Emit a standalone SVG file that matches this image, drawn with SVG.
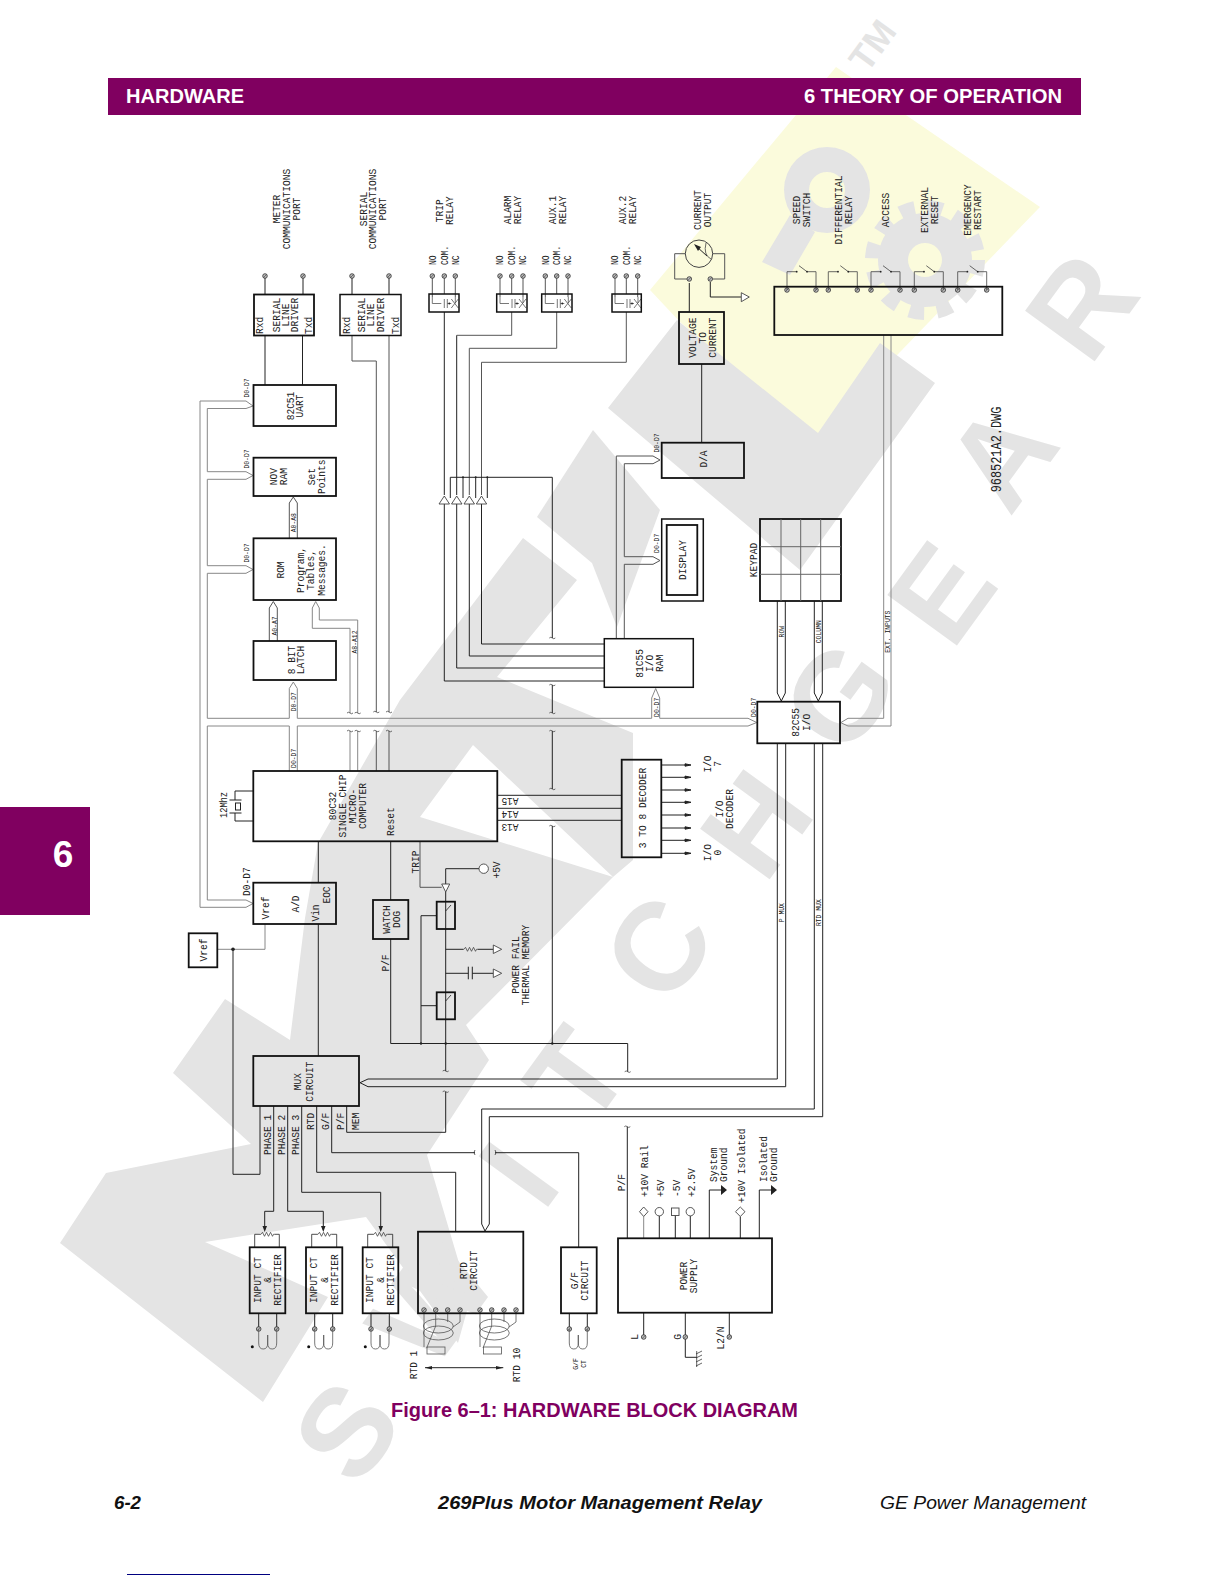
<svg xmlns="http://www.w3.org/2000/svg" width="1224" height="1584" viewBox="0 0 1224 1584">
<style>
.wm{fill:#e4e4e4}
.wt{fill:#e4e4e4;font:bold 125px "Liberation Sans",sans-serif;text-anchor:middle}
.box{fill:none;stroke:#111;stroke-width:1.8}
.box2{fill:none;stroke:#111;stroke-width:1.5}
.c{fill:none;stroke:#222;stroke-width:1}
.g{stroke:#888}
.m{stroke:#555}
.f{fill:#222;stroke:none}
.o{fill:#fff;stroke:#444;stroke-width:.9}
.t{font:11px "Liberation Mono",monospace;fill:#222;text-anchor:middle}
.ts{font:11px "Liberation Mono",monospace;fill:#222;text-anchor:start}
.n{font:10px "Liberation Mono",monospace;fill:#222;text-anchor:start}
.s{font:8px "Liberation Mono",monospace;fill:#111;text-anchor:middle}
.hd{font:bold 20px "Liberation Sans",sans-serif;fill:#fff}
</style>
<defs>
<g id="x"><circle r="2.3" fill="#bbb" stroke="#333" stroke-width=".8"/><path d="M-1.6,1.6L1.6,-1.6" stroke="#333" stroke-width=".6"/></g>
<g id="sw"><path d="M0,0V-18.300H9.700M20,-18.300H29V0M20,-18.300L12,-24.300" fill="none" stroke="#444" stroke-width=".8"/><circle cx="9.700" cy="-18.300" r=".9" fill="#222"/><circle cx="20" cy="-18.300" r=".9" fill="#222"/></g>
<g id="zz"><path d="M0,0h1l1.500,-2l2,4l2,-4l2,4l2,-4l2,4l1,-2h1" fill="none" stroke="#444" stroke-width=".8"/></g>
<g id="coil"><path d="M0,0V14Q0,20 4.500,20Q9,20 9,14V6M9,6V14Q9,20 13.500,20Q18,20 18,14V0" fill="none" stroke="#555" stroke-width=".8"/></g>
<g id="rl"><path d="M0,3V9.500H9M12,5V14M15,5V14M15,9.500H19M19,5L26,14M19,14L26,5M23,3V9" fill="none" stroke="#555" stroke-width=".8"/><circle cx="17" cy="9.500" r=".9" fill="#222"/></g>
<path id="tick" d="M-3,0q1.500,-1.500 3,0q1.500,1.500 3,0" fill="none" stroke="#333" stroke-width=".7"/>
<path id="ar" d="M0,-1.200L6,0L0,1.200Z" fill="#222"/>
</defs>
<rect width="1224" height="1584" fill="#fff"/>
<g id="watermark">
<polygon points="836,67 1040,207 818,437 680,322 650,290" fill="#fbfbdc"/>
<g class="wm">
<polygon points="608,408 677,320 818,433 880,343 935,383 800,570"/>
<polygon points="593,430 537,517 592,563 617,627 660,510"/>
<polygon points="523,538 577,580 497,677 633,733 633,860 613,877 473,745 420,817 613,877 466,1025 489,1060 427,1155 470,1300 458,1343 366,1217 205,1242 328,1297 263,1402 60,1243 106,1173 251,1144 173,1073 225,999 290,1040 305,918 318,843 400,700"/>
<path fill-rule="evenodd" d="M870,190a43,43 0 1,1 -86,0a43,43 0 1,1 86,0ZM845,190a18,18 0 1,0 -36,0a18,18 0 1,0 36,0Z"/>
<path d="M790,215L815,232L790,275L762,262Z"/>
<path fill-rule="evenodd" d="M972,260a47,47 0 1,1 -94,0a47,47 0 1,1 94,0ZM942,260a17,17 0 1,0 -34,0a17,17 0 1,0 34,0Z"/>
<circle cx="925" cy="260" r="53" fill="none" stroke="#e4e4e4" stroke-width="14" stroke-dasharray="15 13"/>
</g>
<g class="wt">
<text transform="translate(345,1430) rotate(-54) translate(0,45)">S</text>
<text transform="translate(430,1300) rotate(-54) translate(0,45)">W</text>
<text transform="translate(517,1173) rotate(-54) translate(0,45)">I</text>
<text transform="translate(575,1075) rotate(-54) translate(0,45)">T</text>
<text transform="translate(657,947) rotate(-54) translate(0,45)">C</text>
<text transform="translate(755,823) rotate(-54) translate(0,45)">H</text>
<text transform="translate(838,695) rotate(-54) translate(0,45)">G</text>
<text transform="translate(940,592) rotate(-54) translate(0,45)">E</text>
<text transform="translate(1000,455) rotate(-54) translate(0,45)">A</text>
<text transform="translate(1080,305) rotate(-54) translate(0,45)">R</text>
<text transform="translate(872,45) rotate(-54) translate(0,13)" style="font-size:36px">TM</text>
</g>
</g>
<g id="page">
<rect x="108" y="78" width="973" height="37" fill="#800060"/>
<text class="hd" x="126" y="103" textLength="118" lengthAdjust="spacingAndGlyphs">HARDWARE</text>
<text class="hd" x="804" y="103" textLength="258" lengthAdjust="spacingAndGlyphs">6 THEORY OF OPERATION</text>
<rect x="0" y="807" width="90" height="108" fill="#800060"/>
<text x="63" y="867" style="font:bold 37px 'Liberation Sans',sans-serif;fill:#fff;text-anchor:middle">6</text>
<text x="391" y="1417" textLength="407" lengthAdjust="spacingAndGlyphs" style="font:bold 20px 'Liberation Sans',sans-serif;fill:#800060">Figure 6–1: HARDWARE BLOCK DIAGRAM</text>
<text x="114" y="1509" textLength="27" lengthAdjust="spacingAndGlyphs" style="font:italic bold 19px 'Liberation Sans',sans-serif;fill:#111">6-2</text>
<text x="438" y="1509" textLength="324" lengthAdjust="spacingAndGlyphs" style="font:italic bold 19px 'Liberation Sans',sans-serif;fill:#111">269Plus Motor Management Relay</text>
<text x="880" y="1509" textLength="206" lengthAdjust="spacingAndGlyphs" style="font:italic 19px 'Liberation Sans',sans-serif;fill:#111">GE Power Management</text>
<rect x="127" y="1574" width="143" height="1" fill="#000080"/>
</g>
<g id="connectors" class="c">
<path d="M265,278V294M303,278V294M265,335V385M302.500,335V385M352,278V294M389,278V294"/>
<path class="m" d="M352,335V361H376.300V712M376.300,731V771M389,335V712M389,731V771"/>
<path class="m" d="M432.300,278V297M455.300,278V297M444.300,278V294M500,278V297M523,278V297M511.700,278V294M545.300,278V297M568,278V297M556.700,278V294M615,278V297M637.700,278V297M626.300,278V294"/>
<path d="M444.300,312V495M456.700,335.300V495"/>
<path class="m" d="M511.700,312V335.300H456.700M556.700,312V348.300H469.300V495M626.300,312V362.300H481.500V495"/>
<path d="M444.300,504V681H604.300M456.700,504V668H604.300M469.300,504V656H604.300M481.500,504V644H604.300"/>
<path d="M450.300,498V477.300H552.300V638M463,498V477.300M475.700,498V477.300M487.300,498V477.300"/>
<path d="M552.300,685V713M552.300,731V789M552.300,826V1043.500"/>
<path class="g" d="M200,401H246L253,406L246,408.500H207.300V471.700H246L253,475.500L246,479.300H207.300V565.700H246L253,569.500L246,573.300H207.300V718.300H289.300V688.500L293.300,682L297.300,688.500V718.300H651.700V698L655.700,688.500L659.700,698V718.300H748L756.700,722.500L748,726H297.300V771M289.300,771V726H207.300V900H246L253,903.500L246,907.300H200V401"/>
<path class="m" d="M289.300,538V503L293.300,497L297.300,503V538M269.300,641V608L273.300,601.500L277.300,608V641"/>
<path class="g" d="M350,713V628.300H312.300V608L315.700,601.500L319.300,608V620H357.700V713M350,731V771M357.700,731V771"/>
<path class="m" d="M616.300,638.700V456H653L660,460L653,463.700H624.300V556.700H653L660,560.500L653,564.300H624.300V638.700"/>
<path d="M777.300,601V693L781.300,701L785.300,693V601M814.300,601V693L818.300,701L822.300,693V601"/>
<path class="g" d="M883.700,335V718.300H848L840.700,722.700L848,726H891V335"/>
<path d="M777.300,743.300V1079H368L360,1082.700L368,1086.700H785.700V743.300"/>
<path d="M814.300,743.300V1109H481.700V1224L485,1231L489.300,1224V1116.700H822.700V743.300"/>
<path d="M701.700,364V442.700M689.300,283V312"/>
<path class="m" d="M685.300,253.700H674.700V279H687M712.700,253.700H724.700V279H713"/>
<path d="M710.300,282V297H741"/>
<path d="M253,791H235V800M253,821H235V813"/>
<path d="M229.500,800H241.500M229.500,813H241.500"/>
<rect x="235.500" y="803" width="5" height="7"/>
<path d="M318.300,841.300V882.700M318.300,924V1056M390.700,841.300V900M390.700,939V1043.500H627.700V1071.700"/>
<path class="m" d="M420,841.300V887.300H441.700"/>
<path d="M445.700,884V868.700H479"/>
<path d="M445.700,892V1071M445.700,1091.700V1132.300H346.700V1106"/>
<path d="M421,915.700V1043.500M421,915.700H436.700M421,1005.700H436.700"/>
<path d="M445.700,911L451,905M445.700,1001L451,995" stroke-width=".8"/>
<path d="M445.700,949.300H463M477.500,949.300H493.300M445.700,973.300H468.300M472.300,973.300H493.300M468.300,966.700V979.300M472.300,966.700V979.300"/>
<use href="#zz" x="463" y="949.300"/>
<path class="g" d="M217.300,949.300H265V924"/>
<path d="M233,949.300V1174.300H260V1106"/>
<path d="M497.300,795.300H621.700M497.300,808.300H621.700M497.300,820.300H621.700"/>
<path d="M661.300,765H686M661.300,777.300H686M661.300,790H686M661.300,802.300H686M661.300,815H686M661.300,828H686M661.300,840.300H686M661.300,853.300H686"/>
<use href="#ar" x="685" y="765"/><use href="#ar" x="685" y="777.300"/><use href="#ar" x="685" y="790"/><use href="#ar" x="685" y="802.300"/><use href="#ar" x="685" y="815"/><use href="#ar" x="685" y="828"/><use href="#ar" x="685" y="840.300"/><use href="#ar" x="685" y="853.300"/>
<path d="M273.700,1106V1211.300H264.700V1230M287.700,1106V1211.300H323.300V1230M301.700,1106V1192.300H380.700V1230M316.700,1106V1172.300H455.700V1231.700M331.700,1106V1152.700H475M495,1152.700H578.700V1247.300"/>
<path class="f" d="M262.500,1226H267L264.700,1232ZM321,1226H325.500L323.300,1232ZM378.500,1226H383L380.700,1232Z"/>
<path d="M627.300,1238V1126.700M709.300,1238V1190H722M759.300,1238V1190H772M659.300,1238V1216M675.300,1238V1215.500M690.300,1238V1216M740.300,1238V1216.500"/>
<path class="g" d="M643.700,1238V1216.500"/>
<path class="f" d="M721,1185L727,1190L721,1195ZM771,1185L777,1190L771,1195Z"/>
<path d="M643.700,1313V1337M685.300,1313V1357.300H696.700M729.300,1313V1337"/>
<path d="M696.700,1351V1367M696,1354L702,1351M696,1358L702,1355M696,1362L702,1359M696,1366L702,1363" stroke-width=".7"/>
<path d="M258.700,1313V1327M276.700,1313V1327M314.700,1313V1327M332.700,1313V1327M371,1313V1327M389.300,1313V1327M569.300,1313V1327M587.300,1313V1327"/>
<path d="M254.700,1247.300V1234.300H260M274.500,1234.300H279.300V1247.300M311.700,1247.300V1234.300H317M331.500,1234.300H336.700V1247.300M367.700,1247.300V1234.300H373M387.500,1234.300H392.700V1247.300" stroke-width=".8"/>
<path d="M425,1367.700H503.300"/>
<path class="f" d="M425,1367.700L432,1366V1369.500ZM503.300,1367.700L496,1366V1369.500Z"/>
<g class="m" stroke-width=".8">
<ellipse cx="438.300" cy="1326" rx="15" ry="7"/><ellipse cx="438.300" cy="1333" rx="15" ry="7"/>
<path d="M424,1312V1347M435.700,1312V1326L426.700,1348M447.700,1312V1322M460,1312V1322L453,1327"/>
<rect x="427" y="1347" width="18" height="7"/>
<ellipse cx="494.300" cy="1326" rx="15" ry="7"/><ellipse cx="494.300" cy="1333" rx="15" ry="7"/>
<path d="M480,1312V1347M491.700,1312V1326L483,1348M504,1312V1322M516,1312V1322L509,1327"/>
<rect x="483.500" y="1347" width="18" height="7"/>
</g>
<use href="#tick" x="350" y="713"/><use href="#tick" x="357.700" y="713"/><use href="#tick" x="376.300" y="712"/><use href="#tick" x="389" y="712"/>
<use href="#tick" x="350" y="731"/><use href="#tick" x="357.700" y="731"/><use href="#tick" x="376.300" y="731"/><use href="#tick" x="389" y="731"/>
<use href="#tick" x="552.300" y="638"/><use href="#tick" x="552.300" y="685"/><use href="#tick" x="552.300" y="713"/><use href="#tick" x="552.300" y="731"/><use href="#tick" x="552.300" y="789"/><use href="#tick" x="552.300" y="826"/>
<use href="#tick" x="445.700" y="1071"/><use href="#tick" x="445.700" y="1091.700"/><use href="#tick" x="627.700" y="1071.700"/><use href="#tick" x="627.300" y="1126.700"/>
<path d="M475,1150q-2,2.500 0,5M495,1150q2,2.500 0,5" stroke-width=".7"/>
<circle class="f" cx="463" cy="477.300" r="1"/><circle class="f" cx="475.700" cy="477.300" r="1"/><circle class="f" cx="487.300" cy="477.300" r="1"/>
<circle class="f" cx="233" cy="949.300" r="1.800"/><circle class="f" cx="552.300" cy="1043.500" r="1.200"/><circle class="f" cx="421" cy="1043.500" r="1.200"/><circle class="f" cx="445.700" cy="1043.500" r="1.200"/>
</g>
<g id="symbols">
<path class="o" d="M444.300,496L449.500,504H439ZM456.700,496L462,504H451.500ZM469.300,496L474.500,504H464ZM481.500,496L486.700,504H476.300Z"/>
<path class="o" d="M441.700,884H449.700L445.700,892Z"/>
<path class="o" d="M493.300,945L501.700,949.300L493.300,953.500ZM493.300,969L501.700,973.300L493.300,977.500ZM741.300,292.700L749.300,297L741.300,301.700Z"/>
<circle class="o" cx="483.700" cy="868.700" r="4.700"/>
<path class="o" d="M643.700,1207L648,1211.700L643.700,1216.500L639.500,1211.700ZM740.300,1207L745,1211.700L740.300,1216.500L735.500,1211.700Z"/>
<circle class="o" cx="659.300" cy="1211.700" r="4.200"/><circle class="o" cx="690.300" cy="1211.700" r="4.200"/>
<rect class="o" x="671.500" y="1208" width="7.500" height="7.500"/>
</g>
<g id="n-term">
<use href="#x" x="265" y="276"/><use href="#x" x="303" y="276"/><use href="#x" x="352" y="276"/><use href="#x" x="389" y="276"/>
<use href="#x" x="432.300" y="276"/><use href="#x" x="444.300" y="276"/><use href="#x" x="455.300" y="276"/>
<use href="#x" x="500" y="276"/><use href="#x" x="511.700" y="276"/><use href="#x" x="523" y="276"/>
<use href="#x" x="545.300" y="276"/><use href="#x" x="556.700" y="276"/><use href="#x" x="568" y="276"/>
<use href="#x" x="615" y="276"/><use href="#x" x="626.300" y="276"/><use href="#x" x="637.700" y="276"/>
<use href="#x" x="689.300" y="279"/><use href="#x" x="710.300" y="279"/>
<use href="#x" x="787" y="290"/><use href="#x" x="816" y="290"/><use href="#x" x="828.300" y="290"/><use href="#x" x="857.300" y="290"/><use href="#x" x="871" y="290"/><use href="#x" x="900" y="290"/><use href="#x" x="914.300" y="290"/><use href="#x" x="943.300" y="290"/><use href="#x" x="957.700" y="290"/><use href="#x" x="986.700" y="290"/>
<use href="#sw" x="787" y="290"/><use href="#sw" x="828.300" y="290"/><use href="#sw" x="871" y="290"/><use href="#sw" x="914.300" y="290"/><use href="#sw" x="957.700" y="290"/>
<use href="#x" x="258.700" y="1329"/><use href="#x" x="276.700" y="1329"/><use href="#x" x="314.700" y="1329"/><use href="#x" x="332.700" y="1329"/><use href="#x" x="371" y="1329"/><use href="#x" x="389.300" y="1329"/><use href="#x" x="569.300" y="1329"/><use href="#x" x="587.300" y="1329"/>
<use href="#coil" x="258.700" y="1329"/><use href="#coil" x="314.700" y="1329"/><use href="#coil" x="371" y="1329"/><use href="#coil" x="569.300" y="1329"/>
<circle cx="252.300" cy="1346.700" r="1.500" fill="#111"/><circle cx="308.700" cy="1346.700" r="1.500" fill="#111"/><circle cx="365.300" cy="1346.700" r="1.500" fill="#111"/>
<use href="#x" x="424" y="1310"/><use href="#x" x="435.700" y="1310"/><use href="#x" x="447.700" y="1310"/><use href="#x" x="460" y="1310"/><use href="#x" x="480" y="1310"/><use href="#x" x="491.700" y="1310"/><use href="#x" x="504" y="1310"/><use href="#x" x="516" y="1310"/>
<use href="#x" x="643.700" y="1337"/><use href="#x" x="685.300" y="1337"/><use href="#x" x="729.300" y="1337"/>
<use href="#zz" x="260" y="1234.300"/><use href="#zz" x="317" y="1234.300"/><use href="#zz" x="373" y="1234.300"/>
<use href="#rl" x="432.300" y="294"/><use href="#rl" x="500" y="294"/><use href="#rl" x="545.300" y="294"/><use href="#rl" x="615" y="294"/>
</g>
<g id="meter"><circle cx="699" cy="253.700" r="13.700" fill="none" stroke="#444"/><path d="M707,256L696,246" stroke="#222"/><path d="M694,244L701,247L698,251Z" fill="#222"/><path d="M706,243Q703,255 711,259" fill="none" stroke="#444" stroke-width=".8"/></g>
<g id="n-meterdrv"><rect class="box" x="254" y="294.500" width="60" height="41"/>
<text class="ts" transform="matrix(0 -.87 1 0 263 334)">Rxd</text><text class="t" transform="matrix(0 -.87 1 0 279.500 315)">SERIAL</text><text class="t" transform="matrix(0 -.87 1 0 288.700 315)">LINE</text><text class="t" transform="matrix(0 -.87 1 0 298 315)">DRIVER</text><text class="ts" transform="matrix(0 -.87 1 0 312 334)">Txd</text></g>
<g id="n-serdrv"><rect class="box2" x="340" y="294.500" width="61" height="41"/>
<text class="ts" transform="matrix(0 -.87 1 0 350 334)">Rxd</text><text class="t" transform="matrix(0 -.87 1 0 364.500 315)">SERIAL</text><text class="t" transform="matrix(0 -.87 1 0 373.500 315)">LINE</text><text class="t" transform="matrix(0 -.87 1 0 383.500 315)">DRIVER</text><text class="ts" transform="matrix(0 -.87 1 0 398.500 334)">Txd</text></g>
<g id="n-trip"><rect class="box2" x="429" y="294" width="30" height="18"/></g>
<g id="n-alarm"><rect class="box2" x="496.700" y="294" width="30.300" height="18"/></g>
<g id="n-aux1"><rect class="box2" x="541.700" y="294" width="30.300" height="18"/></g>
<g id="n-aux2"><rect class="box2" x="612" y="294" width="29.300" height="18"/></g>
<g id="n-uart"><rect class="box" x="253.500" y="385" width="82.500" height="41"/><text class="t" transform="matrix(0 -.87 1 0 294 406)">82C51</text><text class="t" transform="matrix(0 -.87 1 0 303 406)">UART</text></g>
<g id="n-nov"><rect class="box" x="253.500" y="457.700" width="82.500" height="38.300"/><text class="t" transform="matrix(0 -.87 1 0 277 476.700)">NOV</text><text class="t" transform="matrix(0 -.87 1 0 286.500 476.700)">RAM</text><text class="t" transform="matrix(0 -.87 1 0 315 476.700)">Set</text><text class="t" transform="matrix(0 -.87 1 0 325 476.700)">Points</text></g>
<g id="n-rom"><rect class="box" x="253.500" y="538.300" width="82.500" height="61.700"/><text class="t" transform="matrix(0 -.87 1 0 284 570)">ROM</text><text class="t" transform="matrix(0 -.87 1 0 304 570)">Program,</text><text class="t" transform="matrix(0 -.87 1 0 314 570)">Tables,</text><text class="t" transform="matrix(0 -.87 1 0 325 570)">Messages.</text></g>
<g id="n-latch"><rect class="box" x="253.500" y="641" width="82.500" height="39"/><text class="t" transform="matrix(0 -.87 1 0 294.500 660)">8 BIT</text><text class="t" transform="matrix(0 -.87 1 0 304 660)">LATCH</text></g>
<g id="n-micro"><rect class="box" x="253.300" y="771" width="244" height="70.300"/><text class="t" transform="matrix(0 -.87 1 0 335.700 806)">80C32</text><text class="t" transform="matrix(0 -.87 1 0 345.700 806)">SINGLE CHIP</text><text class="t" transform="matrix(0 -.87 1 0 355.700 806)">MICRO-</text><text class="t" transform="matrix(0 -.87 1 0 365.700 806)">COMPUTER</text><text class="t" transform="matrix(0 -.87 1 0 394 821.700)">Reset</text></g>
<g id="n-ad"><rect class="box" x="253.300" y="882.700" width="82.700" height="41.300"/><text class="t" transform="matrix(0 -.87 1 0 269 908)">Vref</text><text class="t" transform="matrix(0 -.87 1 0 299 904)">A/D</text><text class="t" transform="matrix(0 -.87 1 0 319 913)">Vin</text><text class="t" transform="matrix(0 -.87 1 0 330 895)">EOC</text></g>
<g id="n-vref"><rect class="box" x="188.700" y="933.300" width="28.600" height="34"/><text class="t" transform="matrix(0 -.87 1 0 207 950)">Vref</text></g>
<g id="n-wd"><rect class="box" x="373" y="900" width="35.300" height="39"/><text class="t" transform="matrix(0 -.87 1 0 390 919.500)">WATCH</text><text class="t" transform="matrix(0 -.87 1 0 400 919.500)">DOG</text></g>
<g id="n-sw1"><rect class="box" x="436.700" y="901.700" width="18.300" height="27.300"/></g>
<g id="n-sw2"><rect class="box" x="436.700" y="992.300" width="18.300" height="27"/></g>
<g id="n-mux"><rect class="box" x="253.300" y="1056" width="105.700" height="50"/><text class="t" transform="matrix(0 -.87 1 0 301.300 1081.700)">MUX</text><text class="t" transform="matrix(0 -.87 1 0 313.300 1081.700)">CIRCUIT</text></g>
<g id="n-ct1"><rect class="box" x="249.700" y="1247.300" width="35.600" height="66"/><text class="t" transform="matrix(0 -.87 1 0 261 1280)">INPUT CT</text><text class="t" transform="matrix(0 -.87 1 0 271.300 1280)">&amp;</text><text class="t" transform="matrix(0 -.87 1 0 281 1280)">RECTIFIER</text></g>
<g id="n-ct2"><rect class="box" x="306" y="1247.300" width="36.300" height="66"/><text class="t" transform="matrix(0 -.87 1 0 317.300 1280)">INPUT CT</text><text class="t" transform="matrix(0 -.87 1 0 327.700 1280)">&amp;</text><text class="t" transform="matrix(0 -.87 1 0 337.700 1280)">RECTIFIER</text></g>
<g id="n-ct3"><rect class="box" x="362.700" y="1247.300" width="35.600" height="66"/><text class="t" transform="matrix(0 -.87 1 0 373.300 1280)">INPUT CT</text><text class="t" transform="matrix(0 -.87 1 0 384 1280)">&amp;</text><text class="t" transform="matrix(0 -.87 1 0 394 1280)">RECTIFIER</text></g>
<g id="n-rtd"><rect class="box" x="418" y="1231.700" width="105.300" height="81.600"/><text class="t" transform="matrix(0 -.87 1 0 467.300 1270.700)">RTD</text><text class="t" transform="matrix(0 -.87 1 0 477.300 1270.700)">CIRCUIT</text></g>
<g id="n-gf"><rect class="box" x="561" y="1247.300" width="35.700" height="66"/><text class="t" transform="matrix(0 -.87 1 0 578.300 1280.700)">G/F</text><text class="t" transform="matrix(0 -.87 1 0 588 1280.700)">CIRCUIT</text></g>
<g id="n-ps"><rect class="box" x="618" y="1238.300" width="154" height="74.400"/><text class="t" transform="matrix(0 -.87 1 0 687.300 1276)">POWER</text><text class="t" transform="matrix(0 -.87 1 0 697.300 1276)">SUPPLY</text></g>
<g id="n-dec"><rect class="box" x="621.700" y="759.700" width="39.600" height="97.600"/><text class="t" transform="matrix(0 -.87 1 0 646.300 808)">3 TO 8 DECODER</text></g>
<g id="n-81"><rect class="box2" x="604.300" y="638.700" width="89" height="48.600"/><text class="t" transform="matrix(0 -.87 1 0 643 663.300)">81C55</text><text class="t" transform="matrix(0 -.87 1 0 653.300 663.300)">I/O</text><text class="t" transform="matrix(0 -.87 1 0 663.300 663.300)">RAM</text></g>
<g id="n-82"><rect class="box" x="757.300" y="701.700" width="82.700" height="41.600"/><text class="t" transform="matrix(0 -.87 1 0 799 722.300)">82C55</text><text class="t" transform="matrix(0 -.87 1 0 809.700 722.300)">I/O</text></g>
<g id="n-da"><rect class="box" x="661.700" y="442.700" width="82.300" height="35.300"/><text class="t" transform="matrix(0 -.87 1 0 706.700 459)">D/A</text></g>
<g id="n-disp"><rect class="box2" x="661.700" y="519" width="41.600" height="82"/><rect class="box" x="666.700" y="525" width="30.600" height="70"/><text class="t" transform="matrix(0 -.87 1 0 686 560)">DISPLAY</text></g>
<g id="n-key"><rect class="box" x="760" y="519" width="81" height="82"/><path d="M781,519V601M800.700,519V601M820.700,519V601M760,546.700H841M760,574.300H841" stroke="#666" fill="none"/><text class="t" transform="matrix(0 -.87 1 0 757 560)">KEYPAD</text></g>
<g id="n-v2c"><rect class="box" x="679" y="312" width="45" height="52"/><text class="t" transform="matrix(0 -.87 1 0 695.700 337.700)">VOLTAGE</text><text class="t" transform="matrix(0 -.87 1 0 705.700 337.700)">TO</text><text class="t" transform="matrix(0 -.87 1 0 715.700 337.700)">CURRENT</text></g>
<g id="n-swbox"><rect class="box" x="774.300" y="286.700" width="228" height="48.300"/></g>
<g id="labels">
<text class="t" transform="matrix(0 -.87 1 0 280 209)">METER</text><text class="t" transform="matrix(0 -.87 1 0 289.500 209)">COMMUNICATIONS</text><text class="t" transform="matrix(0 -.87 1 0 299.500 209)">PORT</text>
<text class="t" transform="matrix(0 -.87 1 0 366.700 209)">SERIAL</text><text class="t" transform="matrix(0 -.87 1 0 375.700 209)">COMMUNICATIONS</text><text class="t" transform="matrix(0 -.87 1 0 385.700 209)">PORT</text>
<text class="t" transform="matrix(0 -.87 1 0 443 210.700)">TRIP</text><text class="t" transform="matrix(0 -.87 1 0 453.300 210.700)">RELAY</text>
<text class="t" transform="matrix(0 -.87 1 0 511.300 210)">ALARM</text><text class="t" transform="matrix(0 -.87 1 0 521.300 210)">RELAY</text>
<text class="t" transform="matrix(0 -.87 1 0 556 210)">AUX.1</text><text class="t" transform="matrix(0 -.87 1 0 566 210)">RELAY</text>
<text class="t" transform="matrix(0 -.87 1 0 625.700 210)">AUX.2</text><text class="t" transform="matrix(0 -.87 1 0 635.700 210)">RELAY</text>
<text class="t" transform="matrix(0 -.87 1 0 700.700 210)">CURRENT</text><text class="t" transform="matrix(0 -.87 1 0 710.700 210)">OUTPUT</text>
<text class="t" transform="matrix(0 -.87 1 0 799.700 210)">SPEED</text><text class="t" transform="matrix(0 -.87 1 0 809.700 210)">SWITCH</text>
<text class="t" transform="matrix(0 -.87 1 0 842.300 210)">DIFFERENTIAL</text><text class="t" transform="matrix(0 -.87 1 0 852.300 210)">RELAY</text>
<text class="t" transform="matrix(0 -.87 1 0 889 210)">ACCESS</text>
<text class="t" transform="matrix(0 -.87 1 0 928 210)">EXTERNAL</text><text class="t" transform="matrix(0 -.87 1 0 938 210)">RESET</text>
<text class="t" transform="matrix(0 -.87 1 0 971 210)">EMERGENCY</text><text class="t" transform="matrix(0 -.87 1 0 981 210)">RESTART</text>
<text class="t" style="font-size:14px" transform="matrix(0 -.85 1 0 1001 449.500)">968521A2.DWG</text>
<text class="n" transform="matrix(0 -.8 1 0 435.500 265)">NO</text><text class="n" transform="matrix(0 -.8 1 0 447.500 265)">COM.</text><text class="n" transform="matrix(0 -.8 1 0 458.500 265)">NC</text>
<text class="n" transform="matrix(0 -.8 1 0 503 265)">NO</text><text class="n" transform="matrix(0 -.8 1 0 515 265)">COM.</text><text class="n" transform="matrix(0 -.8 1 0 526 265)">NC</text>
<text class="n" transform="matrix(0 -.8 1 0 548.500 265)">NO</text><text class="n" transform="matrix(0 -.8 1 0 560 265)">COM.</text><text class="n" transform="matrix(0 -.8 1 0 571 265)">NC</text>
<text class="n" transform="matrix(0 -.8 1 0 618 265)">NO</text><text class="n" transform="matrix(0 -.8 1 0 629.500 265)">COM.</text><text class="n" transform="matrix(0 -.8 1 0 641 265)">NC</text>
<text class="s" transform="matrix(0 -.8 1 0 249 388)">D0-D7</text><text class="s" transform="matrix(0 -.8 1 0 249 459)">D0-D7</text><text class="s" transform="matrix(0 -.8 1 0 249 553)">D0-D7</text>
<text class="s" transform="matrix(0 -.8 1 0 296 522.700)">A0-A8</text><text class="s" transform="matrix(0 -.8 1 0 276.500 626)">A0-A7</text><text class="s" transform="matrix(0 -.8 1 0 357 642)">A8-A12</text>
<text class="s" transform="matrix(0 -.8 1 0 296 701.700)">D0-D7</text><text class="s" transform="matrix(0 -.8 1 0 296 758.300)">D0-D7</text>
<text class="s" transform="matrix(0 -.8 1 0 658.700 707.300)">D0-D7</text><text class="s" transform="matrix(0 -.8 1 0 756.300 707.300)">D0-D7</text>
<text class="s" transform="matrix(0 -.8 1 0 658.700 443)">D0-D7</text><text class="s" transform="matrix(0 -.8 1 0 658.700 543.300)">D0-D7</text>
<text class="s" transform="matrix(0 -.8 1 0 784.300 631.700)">ROW</text><text class="s" transform="matrix(0 -.8 1 0 821.300 631.700)">COLUMN</text><text class="s" transform="matrix(0 -.8 1 0 890.300 631.700)">EXT. INPUTS</text>
<text class="s" transform="matrix(0 -.8 1 0 784.300 912.700)">P MUX</text><text class="s" transform="matrix(0 -.8 1 0 821.300 912.700)">RTD MUX</text>
<text class="t" transform="matrix(0 -.87 1 0 249.500 881.700)">D0-D7</text>
<text class="t" style="font-size:10px" transform="matrix(0 -.87 1 0 227 805)">12Mhz</text>
<text class="t" transform="matrix(0 -.87 1 0 389 963)">P/F</text>
<text class="t" transform="matrix(0 -.87 1 0 418.500 862)">TRIP</text>
<text class="t" transform="matrix(0 -.87 1 0 500 870)">+5V</text>
<text class="t" transform="matrix(0 -.87 1 0 519 965)">POWER FAIL</text><text class="t" transform="matrix(0 -.87 1 0 529 965)">THERMAL MEMORY</text>
<text class="t" transform="translate(510,798) rotate(180) scale(.87,1)">A15</text><text class="t" transform="translate(510,811) rotate(180) scale(.87,1)">A14</text><text class="t" transform="translate(510,823.500) rotate(180) scale(.87,1)">A13</text>
<text class="t" transform="matrix(0 -.87 1 0 711.300 764)">I/O</text><text class="t" transform="matrix(0 -.87 1 0 720.700 764)">7</text>
<text class="t" transform="matrix(0 -.87 1 0 723 809)">I/O</text><text class="t" transform="matrix(0 -.87 1 0 733 809)">DECODER</text>
<text class="t" transform="matrix(0 -.87 1 0 711.300 852.700)">I/O</text><text class="t" transform="matrix(0 -.87 1 0 720.700 852.700)">0</text>
<text class="ts" transform="matrix(0 -.87 1 0 271 1155)">PHASE 1</text><text class="ts" transform="matrix(0 -.87 1 0 284.500 1155)">PHASE 2</text><text class="ts" transform="matrix(0 -.87 1 0 299 1155)">PHASE 3</text>
<text class="ts" transform="matrix(0 -.87 1 0 314 1130)">RTD</text><text class="ts" transform="matrix(0 -.87 1 0 329 1130)">G/F</text><text class="ts" transform="matrix(0 -.87 1 0 344 1130)">P/F</text><text class="ts" transform="matrix(0 -.87 1 0 359 1130)">MEM</text>
<text class="t" transform="matrix(0 -.87 1 0 417.300 1365)">RTD 1</text><text class="t" transform="matrix(0 -.87 1 0 520 1365)">RTD 10</text>
<text class="s" transform="matrix(0 -.8 1 0 578 1364)">G/F</text><text class="s" transform="matrix(0 -.8 1 0 586 1364)">CT</text>
<text class="t" transform="matrix(0 -.87 1 0 624.700 1182.700)">P/F</text>
<text class="ts" transform="matrix(0 -.87 1 0 648 1197)">+10V Rail</text><text class="ts" transform="matrix(0 -.87 1 0 663.500 1197)">+5V</text><text class="ts" transform="matrix(0 -.87 1 0 679.500 1197)">-5V</text><text class="ts" transform="matrix(0 -.87 1 0 694.500 1197)">+2.5V</text>
<text class="ts" transform="matrix(0 -.87 1 0 717 1182)">System</text><text class="ts" transform="matrix(0 -.87 1 0 727 1182)">Ground</text>
<text class="ts" transform="matrix(0 -.87 1 0 745 1203)">+10V Isolated</text>
<text class="ts" transform="matrix(0 -.87 1 0 767 1182)">Isolated</text><text class="ts" transform="matrix(0 -.87 1 0 777 1182)">Ground</text>
<text class="t" transform="matrix(0 -.87 1 0 638.300 1337)">L</text><text class="t" transform="matrix(0 -.87 1 0 681 1337)">G</text><text class="t" transform="matrix(0 -.87 1 0 724 1338)">L2/N</text>
</g>
</svg>
